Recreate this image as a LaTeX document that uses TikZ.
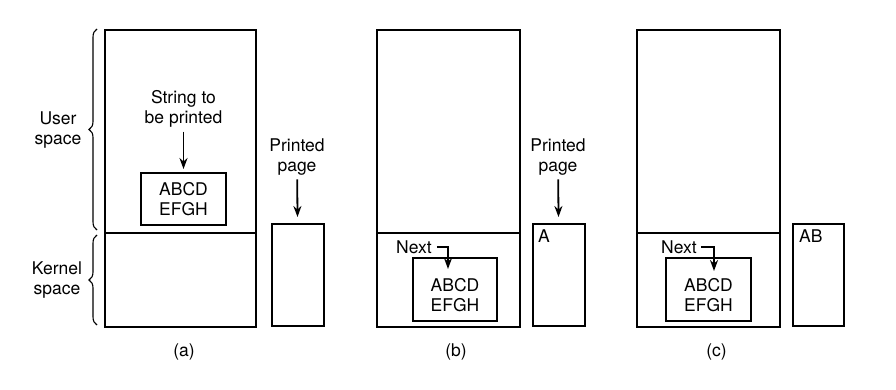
\documentclass[tikz,border=0pt]{standalone}
\usepackage{fontspec}
\setmainfont{TeX Gyre Heros}
\usetikzlibrary{arrows.meta,positioning,decorations.pathreplacing}

\begin{document}
\begin{tikzpicture}[x=1pt, y=-1pt,
  font=\fontsize{17.5}{20}\selectfont,
  area/.style={draw, line width=2pt, anchor=north west, inner sep=0pt},
  buf/.style={draw, line width=2pt, inner sep=0pt},
  txt/.style={align=center, inner sep=0pt},
  ok/.style={-{Stealth[length=11pt, width=8pt]}, line width=1.8pt},
  kume/.style={decorate, decoration={brace, amplitude=8pt}, line width=1.1pt}
]
\useasboundingbox (0,0) rectangle (896,390);

% (a)
\node[area, minimum width=151pt, minimum height=203pt] (userA) at (104,29) {};
\node[area, minimum width=151pt, minimum height=94pt] (kernA) at (104,232) {};
\node[buf, minimum width=85pt, minimum height=52pt] (bufA) at (183.5,199) {};
\node[txt] (datA) at (183.5,199.5) {ABCD\\EFGH};
\node[txt] (strA) at (183.5,109) {String to\\be printed};
\node[area, minimum width=52pt, minimum height=102pt] (pageA) at (271,223) {};
\node[txt] (prA) at (297,157) {Printed\\page};
\node (capA) at (184,352) {(a)};

\draw[kume] (97,230) -- (97,29);
\draw[kume] (97,325) -- (97,235);
\node[txt] (usrlbl) at (58,130) {User\\space};
\node[txt] (krnlbl) at (57,280) {Kernel\\space};

\draw[ok, shorten <=4pt, shorten >=3pt] (strA) -- (bufA);
\draw[ok, shorten <=4pt, shorten >=6pt] (prA) -- (pageA);

% (b)
\node[area, minimum width=143pt, minimum height=203pt] (userB) at (376,29) {};
\node[area, minimum width=143pt, minimum height=94pt] (kernB) at (376,232) {};
\node[buf, minimum width=84pt, minimum height=63pt] (bufB) at (455,289.5) {};
\node[txt] (datB) at (455,295) {ABCD\\EFGH};
\node[txt] (nextB) at (414,247) {Next};
\coordinate (tipB) at (448,269);
\node[area, minimum width=52pt, minimum height=102pt] (pageB) at (532,223) {};
\node[txt] (prB) at (558,157) {Printed\\page};
\node[anchor=base west, inner sep=0pt] (outB) at (538,242) {A};
\node (capB) at (456,352) {(b)};

\draw[ok] ([xshift=5pt]nextB.east) -| (tipB);
\draw[ok, shorten <=4pt, shorten >=6pt] (prB) -- (pageB);

% (c)
\node[area, minimum width=143pt, minimum height=203pt] (userC) at (636,29) {};
\node[area, minimum width=143pt, minimum height=94pt] (kernC) at (636,232) {};
\node[buf, minimum width=85pt, minimum height=63pt] (bufC) at (708.5,289.5) {};
\node[txt] (datC) at (708.5,295) {ABCD\\EFGH};
\node[txt] (nextC) at (679,247) {Next};
\coordinate (tipC) at (714,271);
\node[area, minimum width=51pt, minimum height=102pt] (pageC) at (792,223) {};
\node[anchor=base west, inner sep=0pt] (outC) at (799,242) {AB};
\node (capC) at (716.5,352) {(c)};

\draw[ok] ([xshift=4pt]nextC.east) -| (tipC);
\end{tikzpicture}
\end{document}
